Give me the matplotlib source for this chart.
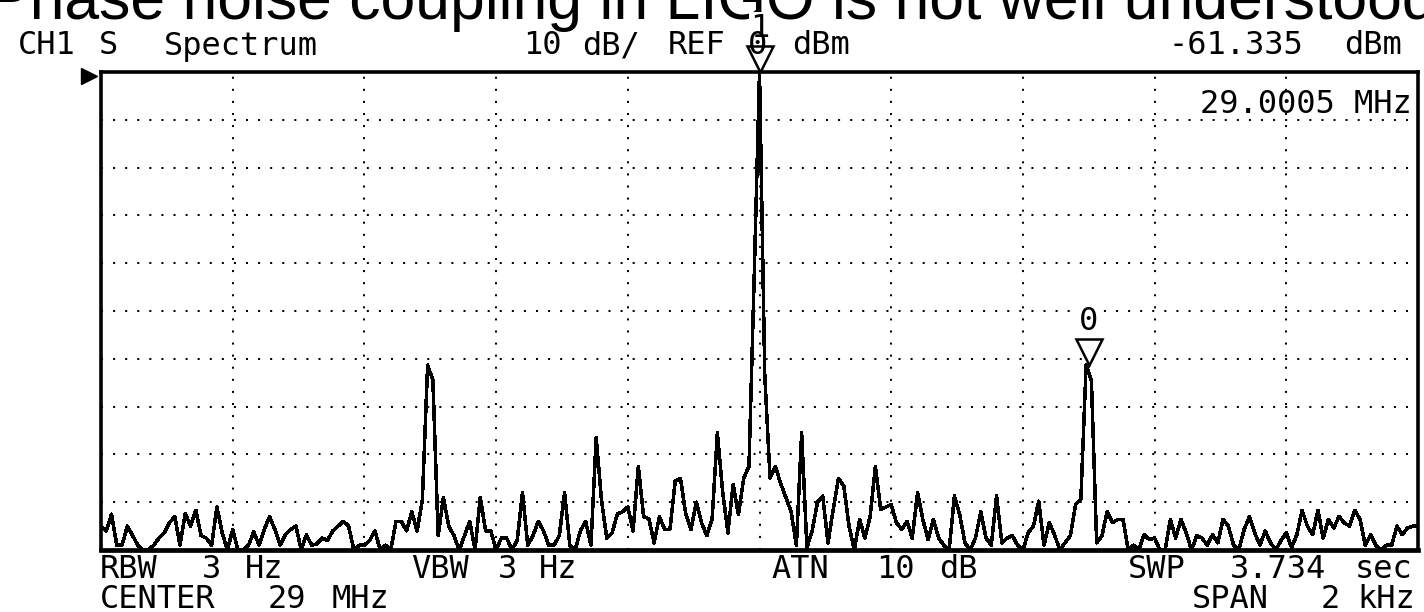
import numpy as np
import matplotlib
matplotlib.use('Agg')
import matplotlib.pyplot as plt

W, H = 1424, 612

# spectrum trace: 251 sweep points across the 2 kHz span (dBm)
level_dbm = [
    -95, -96, -92.5, -99, -99, -95, -97, -99, -100, -100,
    -99, -97.5, -96.4, -94.3, -93, -99, -92.4, -95, -91.7, -97,
    -97.5, -99, -91, -96.4, -100, -95.7, -100, -100, -99, -96.2,
    -99, -95.7, -93, -95.7, -99, -96.8, -95.7, -95, -100, -96.8,
    -99, -98.7, -97.5, -98,
    -96, -95, -94, -95, -100, -99, -99, -98, -96, -100,
    -99, -100, -94, -94, -96, -92, -96, -89.5, -61.3, -64.5,
    -97, -89, -95, -97, -100, -97, -94, -100, -89, -96,
    -96, -100, -97.5, -97.5, -100, -98, -88, -99, -97, -94,
    -96, -99, -99, -97, -88, -99, -100, -96, -94, -99,
    -76.5, -89.5, -97.5, -96.5, -92.5, -92, -91, -96, -82.5, -93,
    -93.5, -98.5, -93, -95.7, -95.7, -85.6, -85, -92.5, -95.7, -90,
    -94.3, -97, -93.6, -75.5, -87.7, -96.4, -86.3, -92.6, -85, -82.5,
    -42.5, 0, -63.5, -85, -82.5, -86, -89, -92, -99, -75.5,
    -99.5, -96, -90, -88.7, -98.5, -91.5, -85, -86.6, -95, -100,
    -93.6, -97.5, -93, -82.5, -91.5, -91, -90.5, -94.3, -95.7, -94,
    -97.5, -88, -93.6, -97.8, -93.6, -97.5, -99, -100, -88.7, -92.6,
    -98.5, -100, -97.5,
    -92, -97.5, -99, -88.7, -98.5, -97.5, -97, -99, -100, -96.4,
    -95, -89.8, -99, -94.3, -96.8, -100, -98.5, -97, -90.5, -89.4,
    -61.3, -64.5, -98.5, -97, -92, -94.3, -93.6, -93.6, -100, -99,
    -100, -96.8, -97.8, -97.5, -100, -100, -93.6, -97.5, -93.6, -96.4,
    -100, -97,
    -97.5, -99, -96.8, -98.5, -93.6, -95, -99, -100, -95.7, -93,
    -96.4, -99, -96, -98.5, -100, -98, -96.4, -99.5, -96.8, -91.7,
    -95, -96.8, -91.7, -97.5, -93.6, -95.4, -93, -94.3, -95, -91.7,
    -93.6, -99, -96.8, -99, -100, -99, -99, -95, -96.8, -95.4,
    -95, -95,
]
span_hz = 2000
ref_dbm = 0
db_per_div = 10

marker_freq = [0, 500]
marker_level = [0, -61.3]
marker_label = ['1', '0']

title = "Phase noise coupling in LIGO is not well understood"

# screen annotations: (text, x px)
top_row = [("CH1", 18), ("S", 99), ("Spectrum", 164), ("10", 523), ("dB/", 582),
           ("REF", 668), ("0", 748), ("dBm", 792), ("-61.335", 1168), ("dBm", 1344)]
bottom_row1 = [("RBW", 100), ("3", 202), ("Hz", 245), ("VBW", 411), ("3", 498), ("Hz", 539),
               ("ATN", 771), ("10", 876), ("dB", 939), ("SWP", 1128), ("3.734", 1230), ("sec", 1355)]
bottom_row2 = [("CENTER", 100), ("29", 268), ("MHz", 332), ("SPAN", 1192), ("2", 1321), ("kHz", 1357)]
marker_readout = "29.0005 MHz"


def fx(x):
    return x / W


def fy(y):
    return 1 - y / H


fig = plt.figure(figsize=(W / 100, H / 100), dpi=100)
fig.patch.set_facecolor('white')

mono = 'DejaVu Sans Mono'
fs = 23

fig.text(fx(-12), fy(19), title, fontsize=45, family='Liberation Sans', va='baseline', ha='left',
         zorder=1)

for txt, x in top_row:
    fig.text(fx(x), fy(46), txt, fontsize=fs, family=mono, va='center', ha='left')
for txt, x in bottom_row1:
    fig.text(fx(x), fy(570), txt, fontsize=fs, family=mono, va='center', ha='left')
for txt, x in bottom_row2:
    fig.text(fx(x), fy(599), txt, fontsize=fs, family=mono, va='center', ha='left')

ax = fig.add_axes([fx(101), fy(550), fx(1418) - fx(101), fy(72) - fy(550)])
ax.set_zorder(2)
ax.patch.set_alpha(0)
freq_hz = np.linspace(-span_hz / 2, span_hz / 2, len(level_dbm))
ax.plot(freq_hz, level_dbm, color='black', lw=1.8, antialiased=False)

ax.set_xlim(-span_hz / 2, span_hz / 2)
ax.set_ylim(ref_dbm - 10 * db_per_div, ref_dbm)
ax.set_xticks(np.arange(-800, 801, 200))
ax.set_yticks(np.arange(-90, -9, 10))
ax.tick_params(length=0, labelbottom=False, labelleft=False)
ax.grid(True, color='black', linestyle=(0, (1, 5)), lw=1.45, dash_capstyle='butt')
for sp in ax.spines.values():
    sp.set_linewidth(2.6)
ax.spines['bottom'].set_linewidth(3.4)

# markers
for f, lvl, lab in zip(marker_freq, marker_level, marker_label):
    ax.plot([f], [lvl + 2.7], marker='v', ms=19, mfc='white', mec='black', mew=1.8,
            clip_on=False, zorder=5)
    ax.text(f, lvl + 9.2, lab, fontsize=fs, family=mono, ha='center', va='center',
            clip_on=False, zorder=6,
            bbox=dict(facecolor='white', edgecolor='none', pad=0.5))

ax.text(fx(1412), fy(104), marker_readout, transform=fig.transFigure,
        fontsize=fs, family=mono, ha='right', va='center')

# reference level arrow
fig.lines.append(plt.Line2D([fx(89)], [fy(76)], marker='>', ms=11, color='black',
                            transform=fig.transFigure))

fig.savefig('out.png', dpi=100, facecolor='white')
